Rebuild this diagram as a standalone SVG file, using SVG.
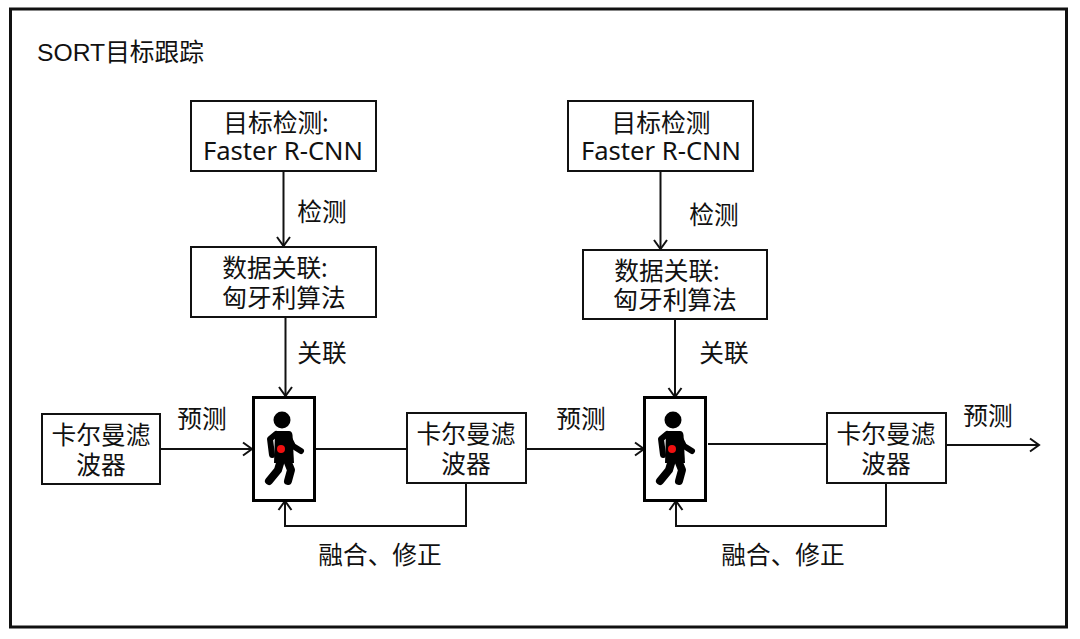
<svg xmlns="http://www.w3.org/2000/svg" width="1080" height="639" viewBox="0 0 1080 639">
<style>
text{font-family:"Noto Sans","Noto Sans CJK SC",sans-serif;font-size:24.700px;fill:#111;text-anchor:middle}
text.lat{font-size:25.600px}
text.title{font-family:"Liberation Sans","Noto Sans CJK SC",sans-serif;text-anchor:start}
.box{fill:#fff;stroke:#111;stroke-width:2}
.ped{fill:#fff;stroke:#000;stroke-width:3}
.c{fill:none;stroke:#111;stroke-width:2;marker-end:url(#a)}
.n{fill:none;stroke:#111;stroke-width:2}
.limb{fill:none;stroke:#000;stroke-linecap:round;stroke-linejoin:round}
</style>
<defs>
<marker id="a" markerUnits="userSpaceOnUse" markerWidth="14" markerHeight="16" refX="10" refY="7" orient="auto" overflow="visible"><path d="M1 0.500L10 7L1 13.500" fill="none" stroke="#111" stroke-width="2"/></marker>
<g id="person">
<circle cx="282" cy="420" r="8.500" fill="#000"/>
<path d="M275 431H289Q292 431 292.500 435L294 463H274Z" fill="#000"/>
<path class="limb" stroke-width="6" d="M276 434L270 439L272 455"/>
<path class="limb" stroke-width="6" d="M290 440L293 446L301 451"/>
<path class="limb" stroke-width="8" d="M281 460L278 470L269 481"/>
<path class="limb" stroke-width="8" d="M287 460L291 470L288 481"/>
<circle cx="281" cy="449" r="4" fill="#f01010"/>
</g>
</defs>
<rect width="1080" height="639" fill="#fff"/>
<rect id="frame" x="10.500" y="9" width="1056" height="618" fill="#fff" stroke="#111" stroke-width="3"/>
<text class="title" x="37" y="61">SORT目标跟踪</text>
<g id="connectors">
<path class="c" d="M283.500 171V246"/>
<path class="c" d="M285.500 317V396"/>
<path class="c" d="M161 449H252"/>
<path class="n" d="M316 449H406"/>
<path class="c" d="M466 483V526H285V501"/>
<path class="c" d="M526 449H644"/>
<path class="n" d="M708 444H826"/>
<path class="c" d="M886 483V526H676V501"/>
<path class="c" d="M660.500 171V249"/>
<path class="c" d="M675 320V397"/>
<path class="c" d="M946 445H1039"/>
</g>
<g id="detect1"><rect class="box" x="191" y="101" width="185" height="70"/><text x="276" y="132">目标检测:</text><text class="lat" x="283" y="160">Faster R-CNN</text></g>
<g id="assoc1"><rect class="box" x="191" y="247" width="185" height="70"/><text x="275" y="277">数据关联:</text><text x="284" y="307">匈牙利算法</text></g>
<g id="kalman1"><rect class="box" x="42" y="414" width="118" height="70"/><text x="101" y="444">卡尔曼滤</text><text x="101" y="474">波器</text></g>
<g id="ped1"><rect class="ped" x="253.500" y="397.500" width="61" height="103"/><use href="#person"/></g>
<g id="kalman2"><rect class="box" x="407" y="413" width="119" height="70"/><text x="466" y="443">卡尔曼滤</text><text x="466" y="473">波器</text></g>
<g id="detect2"><rect class="box" x="568" y="101" width="185" height="70"/><text x="661" y="132">目标检测</text><text class="lat" x="661" y="160">Faster R-CNN</text></g>
<g id="assoc2"><rect class="box" x="583" y="250" width="184" height="69"/><text x="667" y="280">数据关联:</text><text x="675" y="309">匈牙利算法</text></g>
<g id="ped2"><rect class="ped" x="644.500" y="397.500" width="61" height="103"/><use href="#person" x="391"/></g>
<g id="kalman3"><rect class="box" x="827" y="413" width="119" height="70"/><text x="886" y="443">卡尔曼滤</text><text x="886" y="473">波器</text></g>
<g id="labels">
<text x="322" y="221">检测</text><text x="322" y="362">关联</text><text x="202" y="428">预测</text><text x="380" y="564">融合、修正</text>
<text x="714" y="224">检测</text><text x="724" y="362">关联</text><text x="581" y="428">预测</text><text x="988" y="425">预测</text><text x="783" y="564">融合、修正</text>
</g>
</svg>
